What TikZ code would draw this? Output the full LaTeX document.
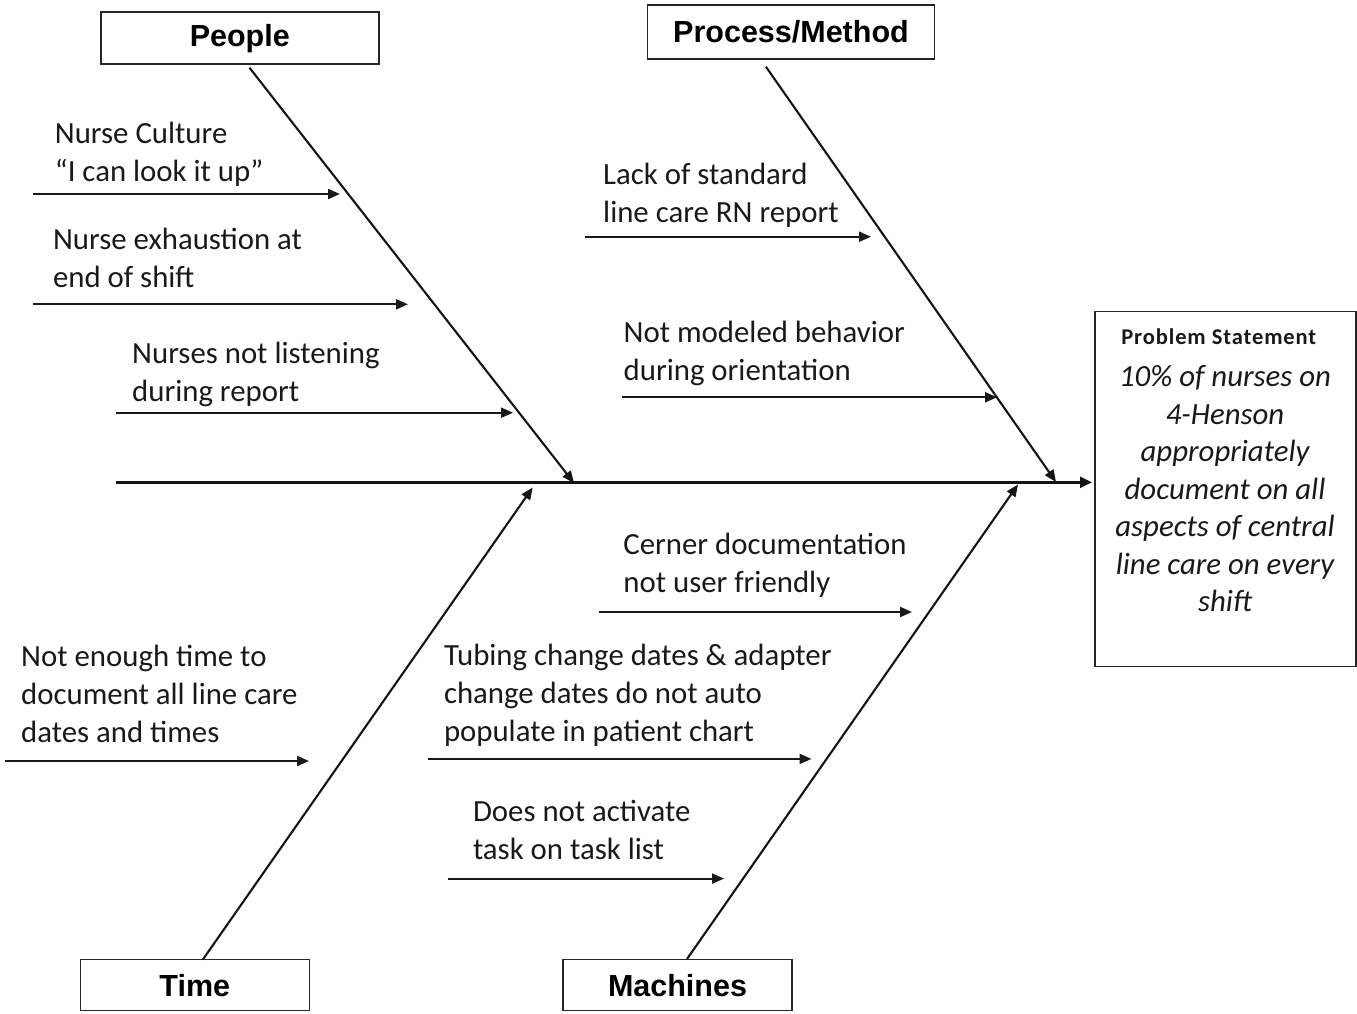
\documentclass[tikz,border=0pt]{standalone}
\usepackage{fontspec}
\setmainfont{Carlito}
\newfontfamily\headfont{Liberation Sans}
\newfontfamily\titlefont[LetterSpace=4]{Carlito}
\usetikzlibrary{arrows.meta}
\begin{document}
\begin{tikzpicture}[x=1pt,y=-1pt,
  catbox/.style={draw=black!85, line width=1.5pt, inner sep=0pt, text=black,
    font=\headfont\bfseries\fontsize{30.5}{35}\selectfont},
  probbox/.style={draw=black!85, line width=1.5pt, inner sep=0pt},
  causetext/.style={anchor=base west, inner sep=0pt, align=left, text=black!90,
    font=\fontsize{30.8}{38}\selectfont},
  causearrow/.style={draw=black!90, line width=2.1pt, -{Triangle[length=12pt,width=10pt]}},
  bonearrow/.style={draw=black!92, line width=2.1pt, -{Triangle[length=12pt,width=10pt]}},
  spinearrow/.style={draw=black!92, line width=2.6pt, -{Triangle[length=12pt,width=11pt]}}
]
\useasboundingbox (0,0) rectangle (1357,1013);

% category boxes
\node[catbox, minimum width=278pt, minimum height=52pt] (people) at (239.75,38.2) {People};
\node[catbox, minimum width=287pt, minimum height=54pt] (process) at (791,32.2) {Process/Method};
\node[catbox, minimum width=229pt, minimum height=51pt] (time) at (194.8,985.1) {Time};
\node[catbox, minimum width=229pt, minimum height=51pt] (machines) at (677.5,985.1) {Machines};

% problem statement
\node[probbox, minimum width=261pt, minimum height=355pt] (problem) at (1225.5,489.2) {};
\node[anchor=base, inner sep=0pt, text=black!90, font=\titlefont\bfseries\fontsize{22.5}{26}\selectfont]
  (ptitle) at (1218.8,344.3) {Problem Statement};
\node[anchor=base, inner sep=0pt, align=center, text=black!90,
  font=\itshape\fontsize{30.8}{37.5}\selectfont] (ptext) at (1225,611.5)
  {10\% of nurses on\\4-Henson\\appropriately\\document on all\\aspects of central\\line care on every\\shift};

% spine
\coordinate (spineS) at (115.6,482.3);
\coordinate (spineE) at (1092,482.3);
\draw[spinearrow] (spineS) -- (spineE);

% bones
\coordinate (peopleS) at (249.5,67.7);
\coordinate (peopleE) at (574,483);
\coordinate (processS) at (765.9,66.7);
\coordinate (processE) at (1056,482);
\coordinate (timeS) at (202.8,959.6);
\coordinate (timeE) at (532.7,487.5);
\coordinate (machinesS) at (687,959);
\coordinate (machinesE) at (1018,484.5);
\draw[bonearrow] (peopleS) -- (peopleE);
\draw[bonearrow] (processS) -- (processE);
\draw[bonearrow] (timeS) -- (timeE);
\draw[bonearrow] (machinesS) -- (machinesE);

% People causes
\node[causetext] (c1) at (54.7,181.5) {Nurse Culture\\“I can look it up”};
\coordinate (a1s) at (33,194); \coordinate (a1e) at (340,194);
\draw[causearrow] (a1s) -- (a1e);
\node[causetext] (c2) at (52.8,287.3) {Nurse exhaustion at\\end of shift};
\coordinate (a2s) at (33,304.3); \coordinate (a2e) at (408,304.3);
\draw[causearrow] (a2s) -- (a2e);
\node[causetext] (c3) at (132,401.5) {Nurses not listening\\during report};
\coordinate (a3s) at (115.6,412.7); \coordinate (a3e) at (513,412.7);
\draw[causearrow] (a3s) -- (a3e);

% Process causes
\node[causetext] (c4) at (603,222.7) {Lack of standard\\line care RN report};
\coordinate (a4s) at (585.4,236.7); \coordinate (a4e) at (871,236.7);
\draw[causearrow] (a4s) -- (a4e);
\node[causetext] (c5) at (623.5,380.7) {Not modeled behavior\\during orientation};
\coordinate (a5s) at (622,397.3); \coordinate (a5e) at (997,397.3);
\draw[causearrow] (a5s) -- (a5e);

% Time cause
\node[causetext] (c6) at (21,742.6) {Not enough time to\\document all line care\\dates and times};
\coordinate (a6s) at (4.6,761); \coordinate (a6e) at (309,761);
\draw[causearrow] (a6s) -- (a6e);

% Machines causes
\node[causetext] (c7) at (623.2,592) {Cerner documentation\\not user friendly};
\coordinate (a7s) at (598.7,612); \coordinate (a7e) at (912,612);
\draw[causearrow] (a7s) -- (a7e);
\node[causetext] (c8) at (443.8,741.2) {Tubing change dates \& adapter\\change dates do not auto\\populate in patient chart};
\coordinate (a8s) at (427.7,758.9); \coordinate (a8e) at (811.5,758.9);
\draw[causearrow] (a8s) -- (a8e);
\node[causetext] (c9) at (472.8,859.3) {Does not activate\\task on task list};
\coordinate (a9s) at (447.8,878.6); \coordinate (a9e) at (724,878.6);
\draw[causearrow] (a9s) -- (a9e);
\end{tikzpicture}
\end{document}
